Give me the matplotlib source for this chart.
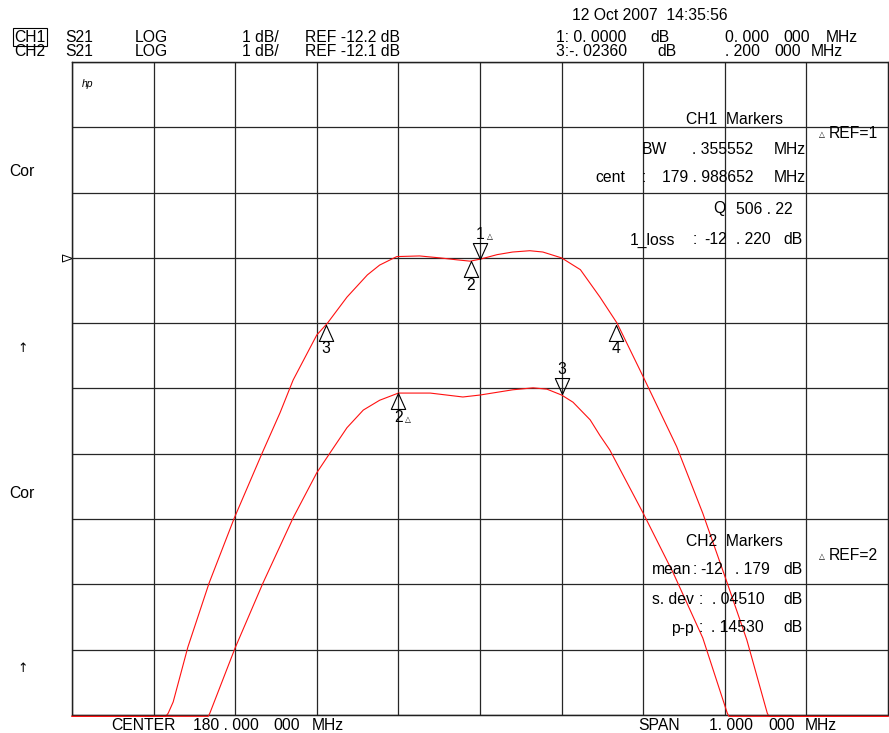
import matplotlib
matplotlib.use("Agg")
import matplotlib.pyplot as plt
import numpy as np

# ---------------- data ----------------
center_mhz = 180.0
span_mhz = 1.0
ch1_ref_db = -12.2
ch2_ref_db = -12.1
scale_db = 1.0

ch1_freq = [179.500, 179.615, 179.618, 179.624, 179.642, 179.668, 179.699, 179.733,
            179.755, 179.771, 179.800, 179.813, 179.837, 179.862, 179.877, 179.898,
            179.926, 179.951, 179.972, 179.988, 180.000, 180.021, 180.040, 180.061,
            180.077, 180.100, 180.114, 180.123, 180.147, 180.168, 180.184, 180.200,
            180.241, 180.273, 180.303, 180.327, 180.352, 180.354, 180.500]
ch1_db = [-19.22, -19.22, -19.17, -19.00, -18.16, -17.18, -16.18, -15.19,
          -14.57, -14.07, -13.38, -13.20, -12.80, -12.46, -12.31, -12.18,
          -12.17, -12.20, -12.23, -12.25, -12.22, -12.15, -12.11, -12.09,
          -12.11, -12.20, -12.31, -12.38, -12.80, -13.20, -13.61, -14.02,
          -15.09, -16.11, -17.18, -18.05, -19.17, -19.22, -19.22]

ch2_freq = [179.500, 179.667, 179.669, 179.700, 179.734, 179.771, 179.800, 179.816,
            179.837, 179.857, 179.877, 179.900, 179.918, 179.939, 179.979, 180.000,
            180.040, 180.065, 180.082, 180.100, 180.114, 180.135, 180.147,
            180.159, 180.200, 180.237, 180.273, 180.303, 180.305, 180.500]
ch2_db = [-17.12, -17.12, -17.07, -16.07, -15.08, -14.08, -13.39, -13.09,
          -12.70, -12.43, -12.28, -12.17, -12.17, -12.17, -12.23, -12.20,
          -12.12, -12.09, -12.11, -12.20, -12.31, -12.58, -12.82,
          -13.04, -14.01, -14.93, -15.92, -17.07, -17.12, -17.12]

ch1_mkr_freq = [180.000, 179.9887, 179.8109, 180.1664]
ch1_mkr_db = [-12.22, -12.25, -13.22, -13.22]
ch1_mkr_label = ['1', '2', '3', '4']
ch1_mkr_above = [True, False, False, False]
ch1_mkr_delta = [True, False, False, False]

ch2_mkr_freq = [179.900, 180.100]
ch2_mkr_db = [-12.17, -12.19]
ch2_mkr_label = ['2', '3']
ch2_mkr_above = [False, True]
ch2_mkr_delta = [True, False]

# ---------------- figure ----------------
W, H = 889, 733
fig = plt.figure(figsize=(W / 100, H / 100), dpi=100)
FAM = ['Liberation Sans', 'DejaVu Sans']
FS = 11.3

L, R, T, B = 72, 888, 62, 715
ax = fig.add_axes([L / W, 1 - B / H, (R - L) / W, (B - T) / H])
ax2 = ax.twinx()

x0, x1 = center_mhz - span_mhz / 2, center_mhz + span_mhz / 2
ax.set_xlim(x0, x1)
ax.set_ylim(ch1_ref_db - 7 * scale_db, ch1_ref_db + 3 * scale_db)
ax2.set_ylim(ch2_ref_db - 5 * scale_db, ch2_ref_db + 5 * scale_db)

ax.set_xticks(np.linspace(x0, x1, 11))
ax.set_yticks(np.linspace(ch1_ref_db - 7, ch1_ref_db + 3, 11))
ax.grid(True, color='#262626', lw=0.9)
ax.tick_params(length=0, labelbottom=False, labelleft=False)
ax2.tick_params(length=0, labelright=False)
for a in (ax, ax2):
    for s in a.spines.values():
        s.set_color('#202020')
        s.set_linewidth(0.9)
ax.spines['right'].set_visible(False)

red = '#ff1010'
ax.plot(ch1_freq, ch1_db, color=red, lw=0.8, clip_on=False, zorder=3)
ax2.plot(ch2_freq, ch2_db, color=red, lw=0.8, clip_on=False, zorder=3)

tri_up_below = [(0, 0), (-0.45, -1), (0.45, -1), (0, 0)]
tri_down_above = [(0, 0), (-0.45, 1), (0.45, 1), (0, 0)]


def draw_markers(a, fr, db, labels, above, delta):
    for f, d, lab, ab, de in zip(fr, db, labels, above, delta):
        m = tri_down_above if ab else tri_up_below
        a.plot([f], [d], marker=m, ms=23, mfc='none', mec='black', mew=0.8,
               ls='none', zorder=4)
        dy = 25 if ab else -24
        a.annotate(lab, (f, d), xytext=(0, dy), textcoords='offset pixels',
                   ha='center', va='center', fontsize=FS, family=FAM, zorder=5)
        if de:
            a.annotate('△', (f, d), xytext=(10, dy - 2), textcoords='offset pixels',
                       ha='center', va='center', fontsize=5.5, family=['DejaVu Sans'])


draw_markers(ax, ch1_mkr_freq, ch1_mkr_db, ch1_mkr_label, ch1_mkr_above, ch1_mkr_delta)
draw_markers(ax2, ch2_mkr_freq, ch2_mkr_db, ch2_mkr_label, ch2_mkr_above, ch2_mkr_delta)

# reference position indicator (CH1)
ref_tri = [(0, 0), (-1, 0.35), (-1, -0.35), (0, 0)]
ax.plot([x0], [ch1_ref_db], marker=ref_tri, ms=14.4, mfc='none', mec='black',
        mew=0.7, ls='none', clip_on=False)


def t(px, py, s, ha='left', size=FS, **kw):
    fam = kw.pop('family', FAM)
    fig.text(px / W, 1 - py / H, s, ha=ha, va='center', fontsize=size,
             family=fam, **kw)


# header
t(572, 16, '12 Oct 2007  14:35:56')
t(14, 37, 'CH1', bbox=dict(boxstyle='square,pad=0.08', fc='none', ec='black', lw=0.8))
t(14, 51, 'CH2')
for y, ref in ((37, 'REF -12.2 dB'), (51, 'REF -12.1 dB')):
    t(65, y, 'S21')
    t(135, y, 'LOG')
    t(242, y, '1 dB/')
    t(305, y, ref)
t(556, 37, '1: 0. 0000')
t(650, 37, 'dB')
t(725, 37, '0. 000')
t(783, 37, '000')
t(826, 37, 'MHz')
t(556, 51, '3:-. 02360')
t(657, 51, 'dB')
t(725, 51, '. 200')
t(774, 51, '000')
t(811, 51, 'MHz')

t(82, 84, 'hp', size=7.5, style='italic')

# left labels
t(9, 171, 'Cor')
t(9, 493, 'Cor')
t(23, 348, '↑', ha='center', size=9, family=['DejaVu Sans'])
t(23, 668, '↑', ha='center', size=9, family=['DejaVu Sans'])

# bottom
t(111, 725, 'CENTER')
t(193, 725, '180 . 000')
t(273, 725, '000')
t(312, 725, 'MHz')
t(638, 725, 'SPAN')
t(709, 725, '1. 000')
t(768, 725, '000')
t(805, 725, 'MHz')

# CH1 marker box
t(686, 120, 'CH1  Markers')
t(822, 135, '△', ha='center', size=5.5, family=['DejaVu Sans'])
t(829, 133, 'REF=1')
t(642, 149, 'BW')
t(753, 149, '. 355552', ha='right')
t(806, 149, 'MHz', ha='right')
t(595, 178, 'cent')
t(642, 178, ':')
t(753, 178, '179 . 988652', ha='right')
t(806, 178, 'MHz', ha='right')
t(713, 209, 'Q')
t(793, 209, '506 . 22', ha='right')
t(630, 240, '1_loss')
t(693, 240, ':')
t(704, 240, '-12')
t(771, 240, '. 220', ha='right')
t(803, 240, 'dB', ha='right')

# CH2 marker box
t(686, 542, 'CH2  Markers')
t(822, 557, '△', ha='center', size=5.5, family=['DejaVu Sans'])
t(829, 555, 'REF=2')
t(652, 570, 'mean')
t(693, 570, ':')
t(700, 570, '-12')
t(770, 570, '. 179', ha='right')
t(803, 570, 'dB', ha='right')
t(652, 600, 's. dev')
t(699, 600, ':')
t(765, 600, '. 04510', ha='right')
t(803, 600, 'dB', ha='right')
t(671, 628, 'p-p')
t(699, 628, ':')
t(764, 628, '. 14530', ha='right')
t(803, 628, 'dB', ha='right')

fig.savefig('out.png', dpi=100)
